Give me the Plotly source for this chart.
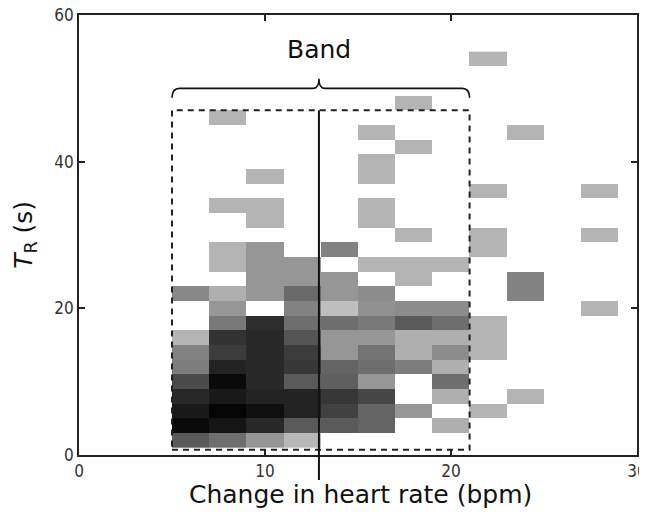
import plotly.graph_objects as go

# ---- data ----
x_centers = [6, 8, 10, 12, 14, 16, 18, 20, 22, 24, 26, 28]          # bpm bin centres
y_centers = list(range(54, 0, -2))                                  # T_R bin centres, top row first
N = None
# darkness of each cell (0 = white, 255 = black); rows from y=54 down to y=2
darkness_rows = [
    [N, N, N, N, N, N, N, N, 75, N, N, N],          # 54
    [N, N, N, N, N, N, N, N, N, N, N, N],           # 52
    [N, N, N, N, N, N, N, N, N, N, N, N],           # 50
    [N, N, N, N, N, N, 75, N, N, N, N, N],          # 48
    [N, 75, N, N, N, N, N, N, N, N, N, N],          # 46
    [N, N, N, N, N, 75, N, N, N, 75, N, N],         # 44
    [N, N, N, N, N, N, 75, N, N, N, N, N],          # 42
    [N, N, N, N, N, 75, N, N, N, N, N, N],          # 40
    [N, N, 75, N, N, 75, N, N, N, N, N, N],         # 38
    [N, N, N, N, N, N, N, N, 75, N, N, 75],         # 36
    [N, 75, 75, N, N, 75, N, N, N, N, N, N],        # 34
    [N, N, 75, N, N, 75, N, N, N, N, N, N],         # 32
    [N, N, N, N, N, N, 75, N, 75, N, N, 75],        # 30
    [N, 75, 105, N, 125, N, N, N, 75, N, N, N],     # 28
    [N, 75, 105, 105, N, 75, 75, 75, N, N, N, N],   # 26
    [N, N, 105, 105, 105, N, 75, N, N, 125, N, N],  # 24
    [120, 80, 105, 150, 105, 115, N, N, N, 125, N, N],   # 22
    [N, 105, N, 125, 65, 110, 115, 115, N, N, N, 75],    # 20
    [N, 135, 210, 145, 145, 135, 165, 145, 75, N, N, N], # 18
    [75, 205, 215, 170, 105, 105, 80, 80, 75, N, N, N],  # 16
    [125, 195, 215, 195, 105, 140, 80, 115, 75, N, N, N],# 14
    [130, 220, 215, 200, 155, 145, 130, 80, N, N, N, N], # 12
    [180, 245, 215, 165, 160, 105, N, 145, N, N, N, N],  # 10
    [215, 230, 220, 220, 200, 185, N, 80, N, 75, N, N],  # 8
    [230, 250, 240, 220, 190, 155, 105, N, 75, N, N, N], # 6
    [245, 235, 215, 165, 165, 155, N, 80, N, N, N, N],   # 4
    [165, 145, 105, 70, N, N, N, N, N, N, N, N],         # 2
]
x_ticks = [0, 10, 20, 30]
y_ticks = [0, 20, 40, 60]
x_range = [0, 30]
y_range = [0, 60]

band_lo, band_hi, band_mid = 5, 21, 12.9
band_bottom, band_top = 0.7, 47
brace_y = 50
label_y = 55.3
line_bottom = -3.4  # the centre line pokes below the axis

fig = go.Figure()
fig.add_trace(go.Heatmap(
    x=x_centers, y=y_centers, z=darkness_rows,
    zmin=0, zmax=255,
    colorscale=[[0, "rgb(255,255,255)"], [1, "rgb(0,0,0)"]],
    showscale=False, hoverongaps=False,
))

axis_common = dict(
    showline=True, linecolor="#222", linewidth=1.6, mirror="ticks",
    ticks="inside", ticklen=6, tickwidth=1.6, tickcolor="#222",
    showgrid=False, zeroline=False, automargin=False, ticklabeloverflow="allow",
    tickfont=dict(family="Liberation Sans Narrow, DejaVu Sans Condensed, Arial Narrow, sans-serif",
                  size=17, color="#333"),
)
fig.update_xaxes(range=x_range, tickvals=x_ticks, ticktext=[str(v) for v in x_ticks], **axis_common)
fig.update_yaxes(range=y_range, tickvals=y_ticks, ticktext=[str(v) for v in y_ticks], **axis_common)

ymin, ymax = y_range
def to_paper_y(v):
    return (v - ymin) / (ymax - ymin)

shapes = [
    dict(type="rect", xref="x", yref="y", x0=band_lo, x1=band_hi, y0=band_bottom, y1=band_top,
         line=dict(color="#222", width=2, dash="6px,5px")),
    dict(type="line", xref="x", yref="paper", x0=band_mid, x1=band_mid,
         y0=to_paper_y(line_bottom), y1=to_paper_y(band_top),
         line=dict(color="#111", width=2)),
    dict(type="path", xref="x", yref="y",
         path=(f"M {band_lo},{brace_y-1.3} Q {band_lo},{brace_y} {band_lo+0.4},{brace_y} "
               f"L {band_mid-0.3},{brace_y} Q {band_mid},{brace_y} {band_mid},{brace_y+1.3} "
               f"Q {band_mid},{brace_y} {band_mid+0.3},{brace_y} "
               f"L {band_hi-0.4},{brace_y} Q {band_hi},{brace_y} {band_hi},{brace_y-1.3}"),
         line=dict(color="#111", width=1.6)),
]

annotations = [
    dict(text="Band", x=band_mid, y=label_y, xref="x", yref="y", showarrow=False,
         xanchor="center", yanchor="middle",
         font=dict(family="DejaVu Sans, Verdana, sans-serif", size=25, color="#111")),
    dict(text="Change in heart rate (bpm)", x=0.5036, y=-0.089, xref="paper", yref="paper",
         showarrow=False, xanchor="center", yanchor="middle",
         font=dict(family="DejaVu Sans, Verdana, sans-serif", size=25, color="#111")),
    dict(text="<i>T</i><sub>R</sub> (s)", x=-0.097, y=0.50, xref="paper", yref="paper",
         showarrow=False, xanchor="center", yanchor="middle", textangle=-90,
         font=dict(family="DejaVu Sans, Verdana, sans-serif", size=25, color="#111")),
]

# the page body adds an 8px offset, so the figure is sized/margined to compensate
fig.update_layout(
    width=639, height=500,
    margin=dict(l=71, r=10, t=7, b=53, autoexpand=False),
    paper_bgcolor="white", plot_bgcolor="white",
    shapes=shapes, annotations=annotations,
    showlegend=False,
)

fig.write_html("out.html")
